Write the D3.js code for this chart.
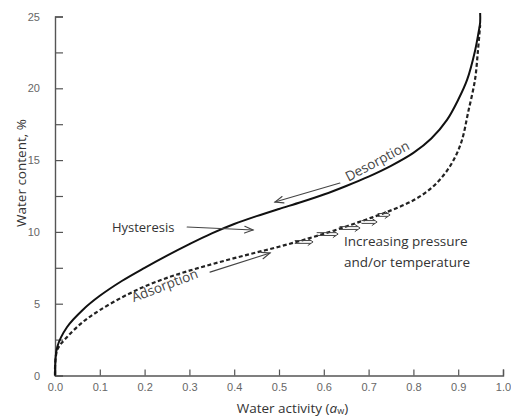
<!DOCTYPE html>
<html>
<head>
<meta charset="utf-8">
<script src="https://cdn.jsdelivr.net/npm/d3@7"></script>
<style>
  html, body { margin: 0; padding: 0; background: #fff; }
  svg { display: block; }
</style>
</head>
<body>
<svg id="chart" width="511" height="417"></svg>
<script>
// Sorption isotherm: water content vs water activity
const desorptionAw = [0, 0.005, 0.027, 0.063, 0.1, 0.15, 0.2, 0.25, 0.3, 0.35, 0.4, 0.45, 0.5, 0.55, 0.6, 0.65, 0.7, 0.75, 0.8, 0.84, 0.875, 0.9, 0.92, 0.9375, 0.946, 0.949, 0.949];
const desorptionWc = [0, 1.98, 3.38, 4.6, 5.55, 6.6, 7.5, 8.35, 9.15, 9.9, 10.55, 11.1, 11.6, 12.08, 12.6, 13.2, 13.85, 14.6, 15.5, 16.5, 17.8, 19.2, 20.6, 22.6, 24.0, 24.6, 25.24];

const adsorptionAw = [0, 0.005, 0.027, 0.063, 0.1, 0.15, 0.2, 0.25, 0.3, 0.35, 0.4, 0.45, 0.5, 0.55, 0.6, 0.65, 0.7, 0.75, 0.8, 0.84, 0.87, 0.893, 0.9085, 0.922, 0.9375, 0.944, 0.949];
const adsorptionWc = [0, 1.78, 2.68, 3.75, 4.55, 5.45, 6.2, 6.8, 7.3, 7.75, 8.17, 8.57, 8.97, 9.4, 9.87, 10.38, 10.92, 11.5, 12.2, 13.05, 14.05, 15.2, 16.4, 18.3, 20.6, 22.6, 24.4];

const xTicks = [0, 0.1, 0.2, 0.3, 0.4, 0.5, 0.6, 0.7, 0.8, 0.9, 1.0];
const yTicks = [0, 5, 10, 15, 20, 25];
const yMinorTicks = [2.5, 7.5, 12.5, 17.5, 22.5];

// Pressure / temperature shift arrows along the adsorption branch: [awStart, awEnd, water content]
const shiftArrows = [
  [0.536, 0.576, 9.30],
  [0.585, 0.632, 9.85],
  [0.636, 0.681, 10.27],
  [0.685, 0.719, 10.69],
  [0.721, 0.748, 11.18]
];

const svg = d3.select("#chart");
const x = d3.scaleLinear().domain([0, 1]).range([55, 503]);
const y = d3.scaleLinear().domain([0, 25]).range([375.5, 16.5]);

const axisColor = "#555";
const tickFont = "Liberation Sans, Arial, sans-serif";
const textFont = "'Open Sans', 'Liberation Sans', sans-serif";

// X axis
const gx = svg.append("g").attr("transform", `translate(0,${y(0)})`)
  .call(d3.axisBottom(x).tickValues(xTicks).tickSize(-6).tickPadding(8).tickFormat(d3.format(".1f")));
gx.select(".domain").attr("stroke", axisColor).attr("stroke-width", 1.4);
gx.selectAll(".tick line").attr("stroke", axisColor).attr("stroke-width", 1.2);
gx.selectAll(".tick text").attr("fill", "#666").attr("font-size", 11).attr("font-family", tickFont);

// Y axis
const gy = svg.append("g").attr("transform", `translate(${x(0)},0)`)
  .call(d3.axisLeft(y).tickValues(yTicks.concat(yMinorTicks)).tickSize(-8).tickPadding(15)
    .tickFormat(d => yTicks.includes(d) ? d : ""));
gy.select(".domain").attr("stroke", axisColor).attr("stroke-width", 1.4);
gy.selectAll(".tick line").attr("stroke", axisColor).attr("stroke-width", 1.2);
gy.selectAll(".tick text").attr("fill", "#666").attr("font-size", 11).attr("font-family", tickFont);

// Axis titles
svg.append("text")
  .attr("transform", `translate(26,${y(14.1)}) rotate(-90)`)
  .attr("text-anchor", "middle")
  .attr("font-family", textFont).attr("font-size", 13.5).attr("fill", "#333")
  .text("Water content, %");

const xt = svg.append("text")
  .attr("x", x(0.53)).attr("y", 413)
  .attr("text-anchor", "middle")
  .attr("font-family", textFont).attr("font-size", 13.5).attr("fill", "#333");
xt.append("tspan").text("Water activity (");
xt.append("tspan").attr("font-style", "italic").text("a");
xt.append("tspan").attr("font-size", 9).attr("dy", 1).text("w");
xt.append("tspan").attr("dy", -1).text(")");

// Isotherm curves
const line = d3.line().x(d => x(d[0])).y(d => y(d[1])).curve(d3.curveCatmullRom.alpha(0.5));

svg.append("path")
  .datum(adsorptionAw.map((a, i) => [a, adsorptionWc[i]]))
  .attr("d", line)
  .attr("fill", "none").attr("stroke", "#222").attr("stroke-width", 2.2)
  .attr("stroke-dasharray", "4,2.5");

svg.append("path")
  .datum(desorptionAw.map((a, i) => [a, desorptionWc[i]]))
  .attr("d", line)
  .attr("fill", "none").attr("stroke", "#111").attr("stroke-width", 2);

// Arrow helper: shaft (single or double) with open head at (x2,y2)
function arrow(x1, y1, x2, y2, opts = {}) {
  const g = svg.append("g").attr("stroke", opts.color || "#444").attr("fill", "none")
    .attr("stroke-width", opts.width || 1.1).attr("stroke-linecap", "round");
  const ang = Math.atan2(y2 - y1, x2 - x1);
  const len = opts.head || 9, spread = opts.spread || 0.38;
  if (opts.double) {
    const off = 1.4, nx = -Math.sin(ang) * off, ny = Math.cos(ang) * off;
    const back = 2.5;
    const ex = x2 - Math.cos(ang) * back, ey = y2 - Math.sin(ang) * back;
    g.append("line").attr("x1", x1 + nx).attr("y1", y1 + ny).attr("x2", ex + nx).attr("y2", ey + ny);
    g.append("line").attr("x1", x1 - nx).attr("y1", y1 - ny).attr("x2", ex - nx).attr("y2", ey - ny);
  } else {
    g.append("line").attr("x1", x1).attr("y1", y1).attr("x2", x2).attr("y2", y2);
  }
  g.append("path").attr("d",
    `M${x2 - len * Math.cos(ang - spread)},${y2 - len * Math.sin(ang - spread)}` +
    `L${x2},${y2}` +
    `L${x2 - len * Math.cos(ang + spread)},${y2 - len * Math.sin(ang + spread)}`);
}

// Labels and arrows
svg.append("text")
  .attr("x", x(0.127)).attr("y", y(10.34)).attr("dy", "0.35em")
  .attr("font-family", textFont).attr("font-size", 13).attr("fill", "#333")
  .text("Hysteresis");
arrow(x(0.295), y(10.34), x(0.442), y(10.13));

svg.append("text")
  .attr("transform", `translate(${x(0.176)},${y(5.1)}) rotate(-21)`)
  .attr("font-family", textFont).attr("font-size", 13.5).attr("fill", "#444")
  .text("Adsorption");
arrow(x(0.346), y(7.2), x(0.48), y(8.53));

svg.append("text")
  .attr("transform", `translate(${x(0.655)},${y(13.5)}) rotate(-28)`)
  .attr("font-family", textFont).attr("font-size", 13.5).attr("fill", "#444")
  .text("Desorption");
arrow(x(0.636), y(13.4), x(0.491), y(12.08));

shiftArrows.forEach(([a0, a1, v]) => {
  arrow(x(a0), y(v), x(a1), y(v), { double: true, head: 6, spread: 0.6, width: 1 });
});

svg.append("text")
  .attr("x", x(0.645)).attr("y", y(9.03))
  .attr("font-family", textFont).attr("font-size", 13.5).attr("fill", "#333")
  .text("Increasing pressure");
svg.append("text")
  .attr("x", x(0.645)).attr("y", y(7.56))
  .attr("font-family", textFont).attr("font-size", 13.5).attr("fill", "#333")
  .text("and/or temperature");
</script>
</body>
</html>
